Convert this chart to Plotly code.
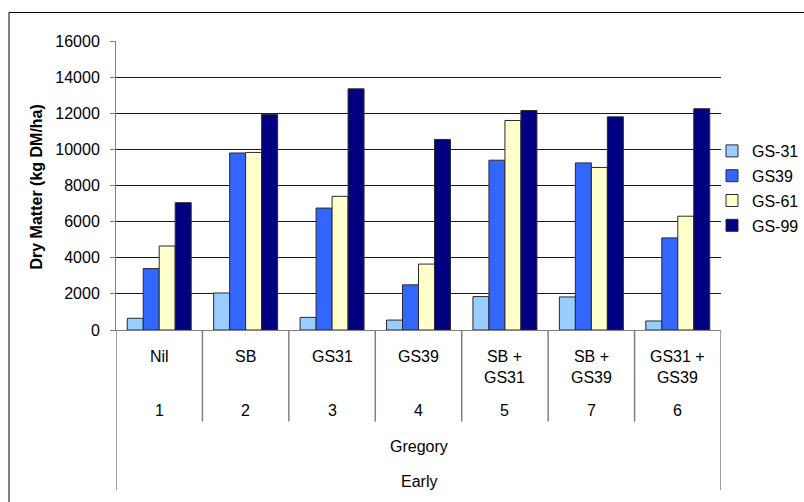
import plotly.graph_objects as go

# Treatments (inner category level) and their treatment numbers
treatments = ["Nil", "SB", "GS31", "GS39", "SB +<br>GS31", "SB +<br>GS39", "GS31 +<br>GS39"]
treatment_numbers = ["1", "2", "3", "4", "5", "7", "6"]
site = "Gregory"
sowing = "Early"

# Dry matter (kg DM/ha) at each growth stage
series_names = ["GS-31", "GS39", "GS-61", "GS-99"]
gs31_values = [650, 2050, 700, 550, 1850, 1830, 500]
gs39_values = [3400, 9800, 6750, 2500, 9400, 9250, 5100]
gs61_values = [4650, 9830, 7400, 3650, 11600, 9000, 6300]
gs99_values = [7050, 11950, 13350, 10550, 12150, 11800, 12250]

y_ticks = [0, 2000, 4000, 6000, 8000, 10000, 12000, 14000, 16000]

series_values = [gs31_values, gs39_values, gs61_values, gs99_values]
series_colors = ["#99CCFF", "#3366FF", "#FFFFCC", "#000080"]

FONT = "Liberation Sans, Arial, sans-serif"

fig = go.Figure()
for name, vals, col in zip(series_names, series_values, series_colors):
    fig.add_trace(go.Bar(
        name=name, x=treatments, y=vals,
        marker=dict(color=col, line=dict(color="#2a2a2a", width=1)),
        legendgroup=name,
    ))

fig.update_layout(
    width=804, height=502,
    margin=dict(l=116, r=83, t=41, b=172, autoexpand=False),
    paper_bgcolor="white", plot_bgcolor="white",
    barmode="group", bargap=0.26, bargroupgap=0,
    font=dict(family=FONT, size=16, color="black"),
    showlegend=True,
    legend=dict(
        x=(712 - 116) / 605, xanchor="left", y=(330 - 134) / 289, yanchor="top",
        font=dict(size=16, family=FONT), bgcolor="rgba(0,0,0,0)",
        tracegroupgap=1, itemclick=False,
    ),
)

fig.update_yaxes(
    range=[0, 16000], tickvals=y_ticks, ticktext=[str(v) for v in y_ticks],
    showgrid=True, gridcolor="#1a1a1a", gridwidth=1,
    showline=True, linecolor="#808080", linewidth=1,
    ticks="outside", ticklen=5, tickcolor="#808080",
    ticklabelstandoff=7, zeroline=False,
    tickfont=dict(size=16, family=FONT),
)
fig.update_xaxes(
    type="category", range=[-0.5, len(treatments) - 0.5],
    showticklabels=False, showgrid=False, ticks="",
    showline=True, linecolor="#808080", linewidth=1,
)

# Divider lines of the multi-level category axis
n = len(treatments)
for i in range(n + 1):
    outer = i in (0, n)
    fig.add_shape(
        type="line", xref="x", yref="paper",
        x0=i - 0.5, x1=i - 0.5, y0=0, y1=-0.554 if outer else -0.317,
        line=dict(color="#808080", width=1.5),
    )

# Category labels: treatment, treatment number, site, sowing time
for t, num in zip(treatments, treatment_numbers):
    fig.add_annotation(x=t, xref="x", yref="paper", y=(330 - 346) / 289,
                       yanchor="top", text=t, showarrow=False,
                       font=dict(size=16, family=FONT))
    fig.add_annotation(x=t, xref="x", yref="paper", y=(330 - 410.7) / 289,
                       yanchor="middle", text=num, showarrow=False,
                       font=dict(size=16, family=FONT))

mid = treatments[n // 2]
fig.add_annotation(x=mid, xref="x", yref="paper", y=(330 - 446.7) / 289,
                   yanchor="middle", text=site, showarrow=False,
                   font=dict(size=16, family=FONT))
fig.add_annotation(x=mid, xref="x", yref="paper", y=(330 - 481) / 289,
                   yanchor="middle", text=sowing, showarrow=False,
                   font=dict(size=16, family=FONT))

# Y axis title
fig.add_annotation(xref="paper", yref="paper", x=(36 - 116) / 605, y=(330 - 187.5) / 289,
                   text="<b>Dry Matter (kg DM/ha)</b>", textangle=-90, showarrow=False,
                   xanchor="center", yanchor="middle",
                   font=dict(size=16, family=FONT))

# Chart-area frame
fig.add_shape(type="rect", xref="paper", yref="paper",
              x0=(9 - 116) / 605, x1=(812 - 116) / 605,
              y0=(330 - 512) / 289, y1=(330 - 12.5) / 289,
              line=dict(color="black", width=1), fillcolor="rgba(0,0,0,0)", layer="below")

fig.write_html("out.html")
